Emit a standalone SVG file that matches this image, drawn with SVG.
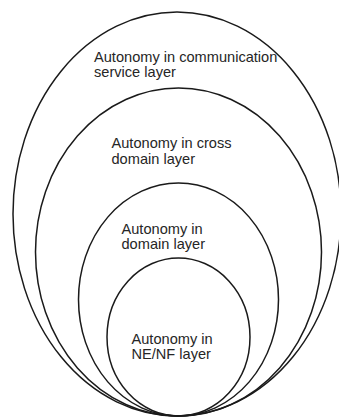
<svg xmlns="http://www.w3.org/2000/svg" width="339" height="417" viewBox="0 0 339 417">
<style>
.layer{fill:none;stroke:#1a1a1a;stroke-width:1.5}
.lbl{font-family:"Liberation Sans",Arial,sans-serif;font-size:14.6px;fill:#262626}
</style>
<rect width="339" height="417" fill="#fff"/>
<g id="communication-service-layer">
<ellipse class="layer" cx="177" cy="214" rx="164" ry="202"/>
<text class="lbl" x="94" y="62">Autonomy in communication</text>
<text class="lbl" x="94" y="77">service layer</text>
</g>
<g id="cross-domain-layer">
<ellipse class="layer" cx="178.5" cy="252" rx="143" ry="164"/>
<text class="lbl" x="111.5" y="148">Autonomy in cross</text>
<text class="lbl" x="111.5" y="163.5">domain layer</text>
</g>
<g id="domain-layer">
<ellipse class="layer" cx="178.5" cy="299.5" rx="100" ry="116.5"/>
<text class="lbl" x="121.5" y="233.5">Autonomy in</text>
<text class="lbl" x="121.5" y="248.5">domain layer</text>
</g>
<g id="ne-nf-layer">
<ellipse class="layer" cx="178.5" cy="337" rx="71.5" ry="79"/>
<text class="lbl" x="131.5" y="344">Autonomy in</text>
<text class="lbl" x="131.5" y="359">NE/NF layer</text>
</g>
<g id="connectors"/>
</svg>
